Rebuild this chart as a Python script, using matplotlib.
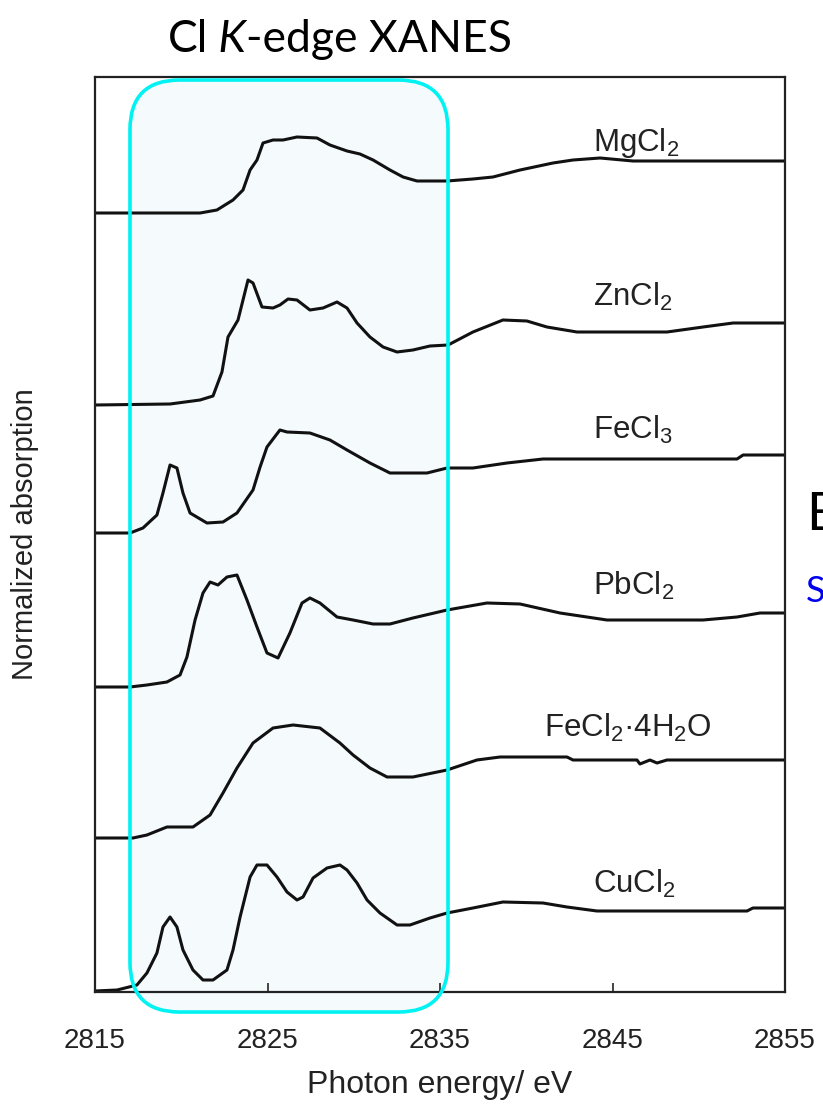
import numpy as np
import matplotlib.pyplot as plt
from matplotlib.patches import FancyBboxPatch

plt.rcParams['font.family'] = ['Liberation Sans', 'DejaVu Sans']
plt.rcParams['mathtext.fontset'] = 'custom'
plt.rcParams['mathtext.rm'] = 'Liberation Sans'
plt.rcParams['mathtext.default'] = 'regular'

# spectra (energy in eV, absorption above own pre-edge)
e_mgcl2 = [2815.0, 2821.09, 2822.07, 2823.0, 2823.58, 2823.99, 2824.39, 2824.74, 2825.32, 2825.9,
           2826.71, 2827.87, 2828.62, 2829.61, 2830.36, 2831.12, 2832.1, 2832.86, 2833.67, 2835.41,
           2836.91, 2838.07, 2839.64, 2841.55, 2842.71, 2844.28, 2846.19, 2855.0]
a_mgcl2 = [0.0, 0.0, 0.03, 0.13, 0.23, 0.43, 0.53, 0.70, 0.73, 0.73,
           0.76, 0.75, 0.68, 0.62, 0.59, 0.53, 0.43, 0.36, 0.32, 0.32,
           0.34, 0.36, 0.43, 0.50, 0.53, 0.55, 0.52, 0.52]

e_zncl2 = [2815.0, 2819.35, 2821.09, 2821.84, 2822.36, 2822.71, 2823.29, 2823.58, 2823.87, 2824.16,
           2824.68, 2825.32, 2825.72, 2826.19, 2826.71, 2827.46, 2828.22, 2829.03, 2829.61, 2830.19,
           2830.94, 2831.7, 2832.51, 2833.43, 2834.42, 2835.47, 2836.91, 2838.65, 2840.04, 2841.2,
           2842.94, 2848.16, 2850.25, 2851.99, 2855.0]
a_zncl2 = [0.0, 0.01, 0.05, 0.09, 0.33, 0.68, 0.85, 1.05, 1.25, 1.22,
           0.98, 0.97, 1.00, 1.06, 1.05, 0.95, 0.97, 1.03, 0.97, 0.82,
           0.68, 0.58, 0.53, 0.55, 0.59, 0.60, 0.73, 0.85, 0.84, 0.78,
           0.73, 0.73, 0.78, 0.82, 0.82]

e_fecl3 = [2815.0, 2817.03, 2817.78, 2818.59, 2818.94, 2819.35, 2819.75, 2820.1, 2820.51, 2821.49,
           2822.42, 2823.23, 2824.16, 2824.57, 2824.97, 2825.72, 2826.13, 2827.46, 2828.62, 2829.61,
           2830.94, 2832.1, 2834.25, 2835.41, 2836.91, 2838.88, 2840.97, 2852.22, 2852.57, 2855.0]
a_fecl3 = [0.0, 0.0, 0.05, 0.18, 0.40, 0.68, 0.65, 0.40, 0.20, 0.10,
           0.11, 0.20, 0.43, 0.66, 0.86, 1.03, 1.01, 1.00, 0.93, 0.83,
           0.70, 0.60, 0.60, 0.65, 0.65, 0.70, 0.74, 0.74, 0.78, 0.78]

e_pbcl2 = [2815.0, 2817.03, 2818.01, 2819.17, 2819.93, 2820.33, 2820.8, 2821.26, 2821.67, 2822.13,
           2822.65, 2823.23, 2823.81, 2824.39, 2824.97, 2825.61, 2826.3, 2827.0, 2827.46, 2828.04,
           2829.03, 2829.96, 2831.12, 2832.1, 2833.43, 2835.41, 2837.72, 2839.64, 2841.96, 2844.68,
           2850.25, 2852.22, 2853.55, 2855.0]
a_pbcl2 = [0.0, 0.0, 0.02, 0.05, 0.12, 0.30, 0.67, 0.94, 1.05, 1.02,
           1.10, 1.12, 0.87, 0.60, 0.34, 0.29, 0.54, 0.84, 0.89, 0.84,
           0.70, 0.67, 0.63, 0.63, 0.69, 0.77, 0.84, 0.83, 0.74, 0.67,
           0.67, 0.70, 0.74, 0.74]

e_fecl2 = [2815.0, 2817.2, 2818.01, 2819.17, 2820.68, 2821.67, 2822.42, 2823.23, 2824.16, 2825.32,
           2826.48, 2828.04, 2829.2, 2829.96, 2830.94, 2831.93, 2833.43, 2835.41, 2837.14, 2838.48,
           2842.36, 2842.71, 2846.42, 2846.59, 2847.17, 2847.58, 2848.16, 2855.0]
a_fecl2 = [0.0, 0.0, 0.03, 0.11, 0.11, 0.23, 0.45, 0.70, 0.95, 1.10,
           1.13, 1.10, 0.95, 0.83, 0.70, 0.61, 0.61, 0.68, 0.78, 0.81,
           0.81, 0.78, 0.78, 0.74, 0.78, 0.75, 0.78, 0.78]

e_cucl2 = [2815.0, 2816.28, 2817.43, 2818.01, 2818.59, 2818.94, 2819.35, 2819.75, 2820.1, 2820.68,
           2821.26, 2821.84, 2822.65, 2823.0, 2823.41, 2823.99, 2824.39, 2824.97, 2825.55, 2826.13,
           2826.71, 2827.06, 2827.64, 2828.45, 2829.2, 2829.61, 2830.19, 2830.77, 2831.52, 2832.51,
           2833.26, 2834.42, 2835.41, 2836.91, 2838.65, 2840.97, 2842.36, 2844.1, 2852.8, 2853.14,
           2855.0]
a_cucl2 = [-0.01, 0.0, 0.05, 0.17, 0.37, 0.63, 0.73, 0.63, 0.40, 0.20,
           0.10, 0.10, 0.20, 0.40, 0.73, 1.13, 1.25, 1.25, 1.13, 0.98,
           0.90, 0.93, 1.12, 1.22, 1.25, 1.20, 1.07, 0.90, 0.77, 0.65,
           0.65, 0.72, 0.77, 0.82, 0.88, 0.87, 0.83, 0.79, 0.79, 0.82,
           0.82]

names = ['MgCl$_2$', 'ZnCl$_2$', 'FeCl$_3$', 'PbCl$_2$', 'FeCl$_2$·4H$_2$O', 'CuCl$_2$']
energies = [e_mgcl2, e_zncl2, e_fecl3, e_pbcl2, e_fecl2, e_cucl2]
absorb = [a_mgcl2, a_zncl2, a_fecl3, a_pbcl2, a_fecl2, a_cucl2]
offsets = [7.79, 5.87, 4.59, 3.05, 1.54, 0.02]

xticks = [2815, 2825, 2835, 2845, 2855]

# label spots (energy, height)
label_pos = [(2846.4, 8.49), (2846.2, 6.95), (2846.2, 5.62), (2846.2, 4.06), (2845.9, 2.64), (2846.3, 1.08)]

fig = plt.figure(figsize=(8.23, 11.06), dpi=100)
ax = fig.add_axes([95 / 823, 114 / 1106, 690 / 823, 915 / 1106])

for e, a, off in zip(energies, absorb, offsets):
    ax.plot(e, np.array(a) + off, color='#111111', lw=2.2, solid_joinstyle='round', zorder=2)

for name, (x, y) in zip(names, label_pos):
    ax.text(x, y, name, ha='center', va='center', fontsize=22.5, color='#222222')

ax.set_xlim(2815, 2855)
ax.set_ylim(0, 9.15)
ax.set_xticks(xticks)
ax.set_yticks([])
ax.tick_params(axis='x', direction='in', length=6.5, width=1.4, color='#444444',
               labelsize=20, pad=26, labelcolor='#222222')
for s in ax.spines.values():
    s.set_color('#222222')
    s.set_linewidth(1.6)

ax.set_xlabel('Photon energy/ eV', fontsize=23, color='#222222')
ax.xaxis.set_label_coords(0.5, -0.1016)
ax.xaxis.label.set_va('center')
ax.set_ylabel('Normalized absorption', fontsize=21, color='#222222')
ax.yaxis.set_label_coords(-0.101, 0.5)
ax.yaxis.label.set_va('center')

# highlight box around the edge region
box_kw = dict(boxstyle='round,pad=0,rounding_size=0.072', mutation_aspect=0.754,
              transform=ax.transAxes, clip_on=False)
ax.add_patch(FancyBboxPatch((0.0507, -0.0219), 0.4609, 1.0186, facecolor='#f5fafd',
                            edgecolor='none', zorder=0.5, **box_kw))
ax.add_patch(FancyBboxPatch((0.0507, -0.0219), 0.4609, 1.0186, facecolor='none',
                            edgecolor='#00f2f2', lw=2.6, zorder=3, **box_kw))

# slide title with italic K
t1 = fig.text(168 / 823, 1 - 52 / 1106, 'Cl', family='Lato', fontsize=32, va='baseline')
k = ax.annotate(' K', xy=(1, 0), xycoords=t1, va='bottom', family='Lato', style='italic',
                fontsize=32, annotation_clip=False)
ax.annotate('-edge XANES', xy=(1, 0), xycoords=k, va='bottom', family='Lato', fontsize=32,
            annotation_clip=False)

# slide text cut off at the right edge, as in the source
fig.text(806 / 823, 1 - 515 / 1106, 'E', family='Lato', fontsize=38, va='center')
fig.text(806 / 823, 1 - 592 / 1106, 'S', family='Lato', fontsize=26, va='center', color='#0000ee')

fig.savefig('out.png', dpi=100)
